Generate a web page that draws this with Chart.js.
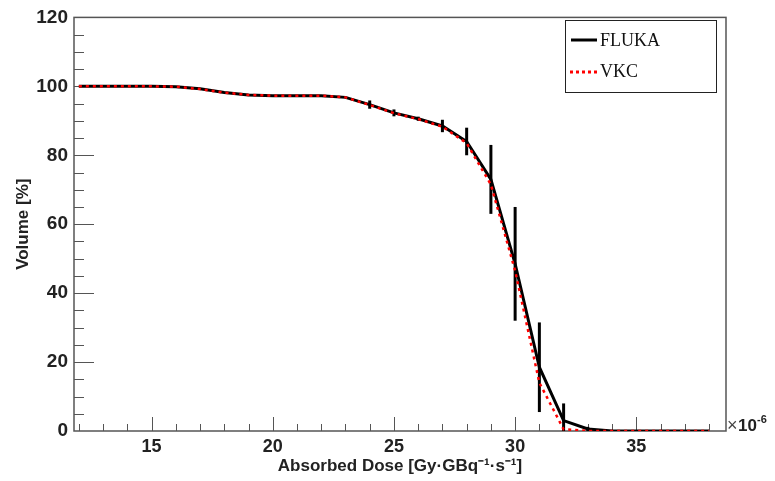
<!DOCTYPE html>
<html lang="en">
<head>
    <meta charset="UTF-8">
    <title>FLUKA vs VKC dose volume histogram</title>
    <script src="https://cdn.jsdelivr.net/npm/chart.js"></script>
    <style>
        html, body { margin: 0; padding: 0; background: #fff; overflow: hidden; }
        canvas { display: block; }
    </style>
</head>
<body>
    <canvas id="dvhChart" width="775" height="481"></canvas>

    <script>
        // dose values (x 10^-6 Gy GBq^-1 s^-1)
        const doses = [12, 13, 14, 15, 16, 17, 18, 19, 20, 21, 22, 23, 24, 25, 26, 27, 28, 29, 30, 31, 32, 33, 34, 35, 36, 37, 38];
        const flukaVolume = [100, 100, 100, 100, 99.9, 99.3, 98.2, 97.5, 97.3, 97.3, 97.3, 96.8, 94.7, 92.3, 90.6, 88.5, 84, 73, 48.5, 18.5, 3, 0.6, 0, 0, 0, 0, 0];
        const flukaError = [0, 0, 0, 0, 0, 0, 0, 0, 0, 0, 0, 0, 1.2, 1, 0.6, 1.8, 4, 10, 16.5, 13, 5, 0.6, 0, 0, 0, 0, 0];
        const vkcVolume = [100, 100, 100, 100, 99.9, 99.2, 98.2, 97.5, 97.3, 97.3, 97.3, 96.8, 94.6, 92.2, 90.5, 88.3, 83.5, 71.5, 46.5, 14, 0.5, 0, 0, 0, 0, 0, 0];
        const xLabelTicks = [15, 20, 25, 30, 35];
        const yLabelTicks = [0, 20, 40, 60, 80, 100, 120];

        const frameColor = '#555';
        const sans = '"Liberation Sans", Arial, sans-serif';

        const rootFrame = {
            id: 'rootFrame',
            beforeDatasetsDraw(chart) {
                const ctx = chart.ctx;
                const a = chart.chartArea;
                const xs = chart.scales.x, ys = chart.scales.y;
                ctx.save();
                ctx.strokeStyle = frameColor;
                ctx.lineWidth = 1.5;
                ctx.strokeRect(a.left, a.top, a.right - a.left, a.bottom - a.top);
                // x ticks, pointing inward
                ctx.lineWidth = 1;
                for (let v = 12; v <= 38; v++) {
                    const px = Math.round(xs.getPixelForValue(v)) + 0.5;
                    const len = v % 5 === 0 ? 14 : 7;
                    ctx.beginPath();
                    ctx.moveTo(px, a.bottom);
                    ctx.lineTo(px, a.bottom - len);
                    ctx.stroke();
                }
                // y ticks
                for (let v = 5; v < 120; v += 5) {
                    const py = Math.round(ys.getPixelForValue(v)) + 0.5;
                    const len = v % 20 === 0 ? 20 : 10;
                    ctx.beginPath();
                    ctx.moveTo(a.left, py);
                    ctx.lineTo(a.left + len, py);
                    ctx.stroke();
                }
                // error bars
                ctx.strokeStyle = '#000';
                ctx.lineWidth = 3;
                doses.forEach((d, i) => {
                    const e = flukaError[i];
                    if (!e) return;
                    const px = xs.getPixelForValue(d);
                    ctx.beginPath();
                    ctx.moveTo(px, ys.getPixelForValue(Math.max(0, flukaVolume[i] - e)));
                    ctx.lineTo(px, ys.getPixelForValue(flukaVolume[i] + e));
                    ctx.stroke();
                });
                ctx.restore();
            },
            afterDraw(chart) {
                const ctx = chart.ctx;
                const a = chart.chartArea;
                ctx.save();
                // legend box
                const lx = 565.5, ly = 20.5, lw = 151, lh = 72;
                ctx.fillStyle = '#fff';
                ctx.fillRect(lx, ly, lw, lh);
                ctx.strokeStyle = '#222';
                ctx.lineWidth = 1;
                ctx.strokeRect(lx, ly, lw, lh);
                ctx.lineWidth = 3;
                ctx.strokeStyle = '#000';
                ctx.beginPath();
                ctx.moveTo(571, 40);
                ctx.lineTo(597, 40);
                ctx.stroke();
                ctx.strokeStyle = '#ff0000';
                ctx.setLineDash([3, 3]);
                ctx.beginPath();
                ctx.moveTo(570, 72);
                ctx.lineTo(598, 72);
                ctx.stroke();
                ctx.setLineDash([]);
                ctx.fillStyle = '#111';
                ctx.font = '18px "Liberation Serif", serif';
                ctx.textBaseline = 'middle';
                ctx.fillText('FLUKA', 600, 41);
                ctx.fillText('VKC', 600, 72);
                // exponent label
                ctx.fillStyle = '#444';
                ctx.textBaseline = 'alphabetic';
                ctx.font = '18px ' + sans;
                ctx.fillText('\u00d7', a.right + 1, a.bottom);
                ctx.fillStyle = '#222';
                ctx.font = 'bold 17px ' + sans;
                ctx.fillText('10', a.right + 12, a.bottom);
                ctx.font = 'bold 11px ' + sans;
                ctx.fillText('-6', a.right + 31, a.bottom - 8);
                ctx.restore();
            }
        };

        const ctx = document.getElementById('dvhChart').getContext('2d');
        new Chart(ctx, {
            type: 'line',
            data: {
                datasets: [{
                    label: 'FLUKA',
                    data: doses.map((d, i) => ({ x: d, y: flukaVolume[i] })),
                    borderColor: '#000',
                    borderWidth: 3,
                    pointRadius: 0,
                    tension: 0,
                    fill: false,
                    order: 2
                }, {
                    label: 'VKC',
                    data: doses.map((d, i) => ({ x: d, y: vkcVolume[i] })),
                    borderColor: '#ff0000',
                    borderWidth: 2.5,
                    borderDash: [3, 4],
                    pointRadius: 0,
                    tension: 0,
                    fill: false,
                    order: 1
                }]
            },
            options: {
                responsive: false,
                animation: false,
                layout: { padding: { top: 16, right: 49, left: 0, bottom: 0 } },
                plugins: {
                    legend: { display: false },
                    tooltip: { enabled: false }
                },
                scales: {
                    x: {
                        type: 'linear',
                        min: 11.8,
                        max: 38.7,
                        afterBuildTicks: s => { s.ticks = xLabelTicks.map(v => ({ value: v })); },
                        afterFit: s => { s.height = 50; },
                        grid: { display: false, drawTicks: false },
                        border: { display: false },
                        ticks: {
                            color: '#222',
                            padding: 5,
                            maxRotation: 0,
                            font: { family: sans, size: 18, weight: 'bold' }
                        },
                        title: {
                            display: true,
                            text: 'Absorbed Dose [Gy\u00b7GBq\u207b\u00b9\u00b7s\u207b\u00b9]',
                            color: '#222',
                            padding: { top: 0, bottom: 4 },
                            font: { family: sans, size: 17, weight: 'bold' }
                        }
                    },
                    y: {
                        min: 0,
                        max: 120,
                        afterBuildTicks: s => { s.ticks = yLabelTicks.map(v => ({ value: v })); },
                        afterFit: s => { s.width = 74; },
                        grid: { display: false, drawTicks: false },
                        border: { display: false },
                        ticks: {
                            color: '#222',
                            padding: 6,
                            font: { family: sans, size: 19, weight: 'bold' }
                        },
                        title: {
                            display: true,
                            text: 'Volume [%]',
                            color: '#222',
                            padding: { top: 13, bottom: 0 },
                            font: { family: sans, size: 17, weight: 'bold' }
                        }
                    }
                }
            },
            plugins: [rootFrame]
        });
    </script>
</body>
</html>
